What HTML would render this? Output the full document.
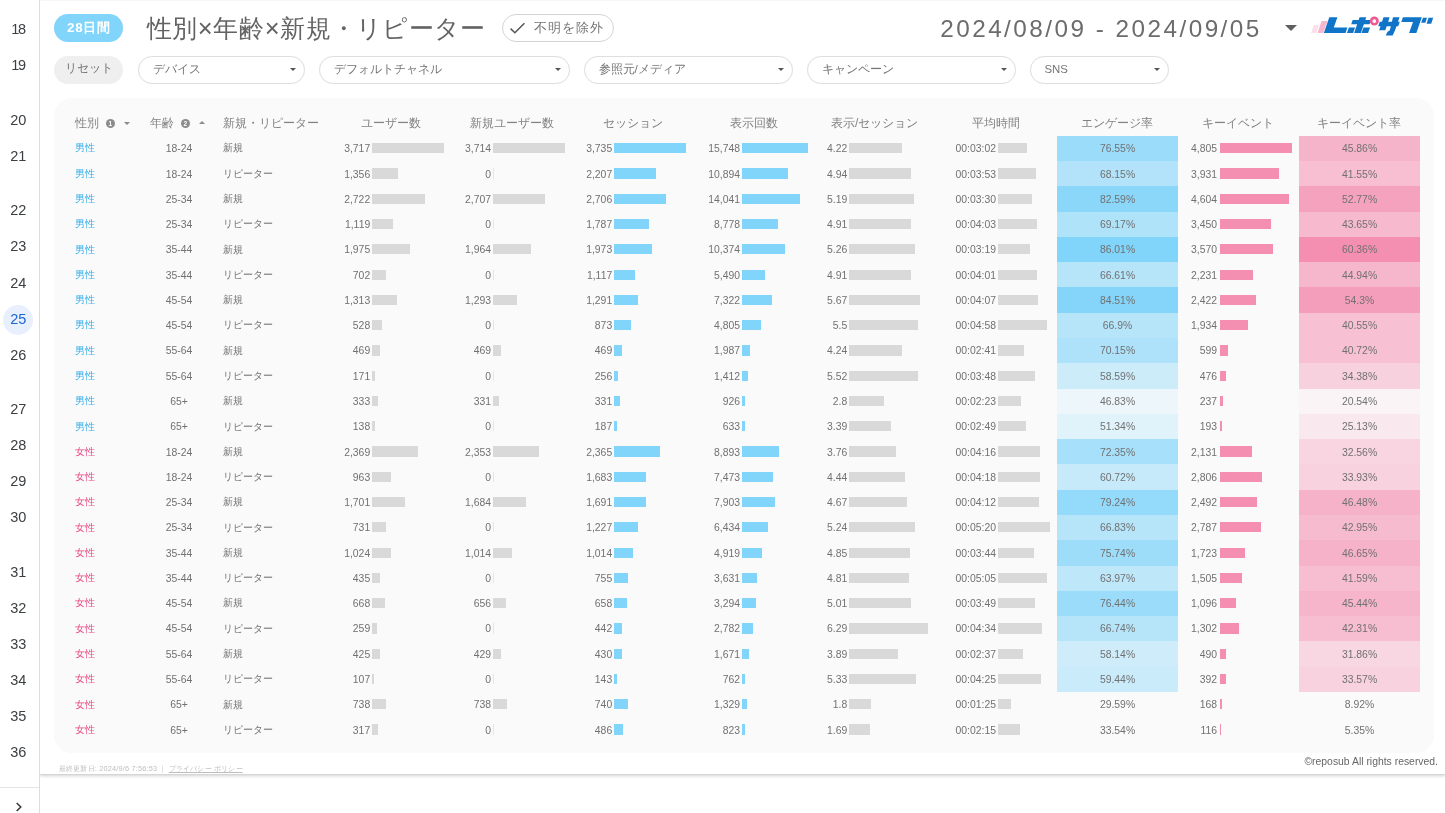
<!DOCTYPE html>
<html lang="ja">
<head>
<meta charset="utf-8">
<title>性別×年齢×新規・リピーター</title>
<style>
html,body{margin:0;padding:0;}
body{width:1445px;height:813px;overflow:hidden;background:#fff;position:relative;font-family:"Liberation Sans",sans-serif;color:#757575;}
div,span{box-sizing:border-box;}
.abs{position:absolute;}
#wrap{position:absolute;left:0;top:0;width:1445px;height:813px;will-change:transform;}
/* sidebar */
#side{position:absolute;left:0;top:0;width:40px;height:813px;border-right:1px solid #dadce0;background:#fff;}
#side .n{position:absolute;left:0;width:36px;text-align:center;font-size:14.5px;line-height:20px;height:20px;color:#3c4043;margin-top:-10.3px;padding-left:.6px;}
#side .n.k{letter-spacing:-1.3px;padding-left:0;}
#side .sel{position:absolute;left:3px;top:305px;width:30px;height:30px;border-radius:50%;background:#e8f0fe;}
#side .n.on{color:#1967d2;}
#side .sep{position:absolute;left:0;top:787px;width:39px;height:1px;background:#e3e4e8;}
/* canvas */
#canvas{position:absolute;left:40px;top:0;width:1405px;height:775px;background:#fff;border-bottom:1px solid #d6d6d6;box-shadow:0 1px 3px rgba(0,0,0,.18);}
#title .x{margin:0 .6px;}
.pill{position:absolute;height:28px;border-radius:14px;font-size:11.8px;line-height:28px;white-space:nowrap;}
.dd{position:absolute;top:55.6px;height:28.1px;border-radius:14px;border:1.4px solid #dfdfdf;background:#fff;font-size:11.8px;line-height:25.4px;padding-left:14px;color:#757575;white-space:nowrap;box-shadow:0 0 1px rgba(0,0,0,.06);}
.dd i{position:absolute;right:7.9px;top:11.7px;width:0;height:0;border-left:3.2px solid transparent;border-right:3.2px solid transparent;border-top:3.6px solid #555;}
#card{position:absolute;left:53.5px;top:98px;width:1380px;height:654.5px;border-radius:18px;background:#fafafa;}
.t{position:absolute;font-size:10.4px;line-height:14px;height:14px;margin-top:-7px;white-space:nowrap;color:#717171;}
.t.j{font-size:10.1px;}
.t.r,.t.c{padding-top:.75px;}
.t.r{width:80px;text-align:right;}
.t.c{text-align:center;}
.t.m{color:#35aeeb;}
.t.f{color:#ec4883;}
.h{position:absolute;top:123px;font-size:12.1px;margin-left:-.8px;line-height:16px;height:16px;margin-top:-8px;white-space:nowrap;color:#828282;text-align:center;}
.sn{position:absolute;width:9.2px;height:9.2px;border-radius:50%;background:#8c8c8c;color:#fff;font-size:6.5px;line-height:9.2px;text-align:center;font-weight:bold;}
.bar{position:absolute;height:10.2px;}
.bar.g{background:#d9d9d9;}
.bar.b{background:#81d4fa;}
.bar.p{background:#f48fb1;}
.hc{position:absolute;}
</style>
</head>
<body>
<div id="canvas"><div style="position:absolute;left:1px;top:0;width:1404px;height:1px;background:#f6f6f6"></div></div>
<div id="wrap">
<div id="side">
<div class="sel"></div>
<div class="n k" style="top:29.5px">18</div>
<div class="n k" style="top:65.7px">19</div>
<div class="n" style="top:120px">20</div>
<div class="n" style="top:156px">21</div>
<div class="n" style="top:210.5px">22</div>
<div class="n" style="top:246.5px">23</div>
<div class="n" style="top:283px">24</div>
<div class="n on" style="top:319.5px">25</div>
<div class="n" style="top:355px">26</div>
<div class="n" style="top:409px">27</div>
<div class="n" style="top:445px">28</div>
<div class="n" style="top:481.5px">29</div>
<div class="n" style="top:517.5px">30</div>
<div class="n" style="top:572px">31</div>
<div class="n" style="top:608px">32</div>
<div class="n" style="top:644px">33</div>
<div class="n" style="top:680px">34</div>
<div class="n" style="top:716.5px">35</div>
<div class="n" style="top:752.5px">36</div>
<div class="sep"></div>
<svg class="abs" style="left:12px;top:800px" width="14" height="14" viewBox="0 0 14 14"><path d="M4.7 2.9 L8.8 7 L4.7 11.1" fill="none" stroke="#333" stroke-width="1.45"/></svg>
</div>

<!-- header -->
<div class="pill" style="left:53.7px;top:13.8px;width:69.8px;background:#81d4fa;color:#fff;text-align:center;font-size:13.4px;letter-spacing:.8px;padding-left:.8px;line-height:28.6px;font-weight:bold;">28日間</div>
<div class="abs" id="title" style="left:146.6px;top:10px;font-size:25.49px;letter-spacing:.27px;line-height:36px;color:#636363;white-space:nowrap;font-weight:300;">性別<span class="x">×</span>年齢<span class="x">×</span>新規・リピーター</div>
<div class="pill" style="left:501.5px;top:13.8px;width:112px;border:1px solid #d8d8d8;background:#fff;color:#757575;padding-left:31.5px;line-height:26.5px;font-size:12.6px;letter-spacing:1.05px;border-width:1.5px;border-color:#d4d4d4;">不明を除外</div>
<svg class="abs" style="left:508px;top:20px" width="18" height="16" viewBox="0 0 18 16"><path d="M2.6 8.6 L6.9 12.8 L16.4 3.2" fill="none" stroke="#555" stroke-width="1.5"/></svg>
<div class="abs" id="date" style="left:940.2px;top:10.5px;font-size:24.3px;letter-spacing:2.47px;line-height:36px;color:#6c6c6c;white-space:nowrap;">2024/08/09 - 2024/09/05</div>
<div class="abs" style="left:1284.9px;top:25px;width:0;height:0;border-left:6.9px solid transparent;border-right:6.9px solid transparent;border-top:6.5px solid #5f5f5f;"></div>
<svg class="abs" style="left:1305px;top:10px" width="135" height="30" viewBox="0 0 1445 321">
<polygon points="95,160 150,160 120,245 65,245" fill="#fce0ea"/>
<polygon points="178,118 240,118 195,245 133,245" fill="#f8b7ce"/>
<g fill="#1075c8">
<polygon points="260,78 347,78 308,188 454,188 434,246 202,246"/>
<polygon points="510,108 706,108 691,153 495,153"/>
<polygon points="584,78 656,78 598,246 526,246"/>
<polygon points="470,186 536,186 515,246 449,246"/>
<polygon points="626,186 696,186 675,246 605,246"/>
<polygon points="800,126 1014,126 998,173 784,173"/>
<polygon points="840,78 906,78 860,216 794,216"/>
<polygon points="942,78 1012,78 964,218 938,272 864,272 884,232 908,216"/>
<polygon points="1048,78 1250,78 1192,246 1114,246 1156,128 1031,128"/>
<polygon points="1262,82 1306,82 1288,136 1244,136"/>
<polygon points="1322,82 1372,82 1351,146 1301,146"/>
</g>
<circle cx="742" cy="118" r="34" fill="#fff" stroke="#ee5b93" stroke-width="28"/>
</svg>

<!-- filters -->
<div class="pill" style="left:53.7px;top:55.7px;width:69.8px;background:#efefef;color:#757575;text-align:center;font-size:12.3px;line-height:24.8px;">リセット</div>
<div class="dd" style="left:137.5px;width:167px;">デバイス<i></i></div>
<div class="dd" style="left:318.5px;width:251px;">デフォルトチャネル<i></i></div>
<div class="dd" style="left:583.5px;width:209px;">参照元/メディア<i></i></div>
<div class="dd" style="left:806.5px;width:209px;">キャンペーン<i></i></div>
<div class="dd" style="left:1029.5px;width:139px;font-size:11.4px;">SNS<i></i></div>

<div id="card"></div>
<!-- table header -->
<div class="h" style="left:76.1px;text-align:left;">性別</div>
<div class="h" style="left:150.5px;text-align:left;">年齢</div>
<div class="h" style="left:223.5px;text-align:left;">新規・リピーター</div>
<div class="h" style="left:331px;width:121px;">ユーザー数</div>
<div class="h" style="left:452px;width:121px;">新規ユーザー数</div>
<div class="h" style="left:573px;width:121px;">セッション</div>
<div class="h" style="left:694px;width:121px;">表示回数</div>
<div class="h" style="left:815px;width:121px;">表示/セッション</div>
<div class="h" style="left:936px;width:121px;">平均時間</div>
<div class="h" style="left:1057px;width:121px;">エンゲージ率</div>
<div class="h" style="left:1178px;width:121px;">キーイベント</div>
<div class="h" style="left:1299px;width:121px;">キーイベント率</div>
<div class="sn" style="left:105.7px;top:119.1px;">1</div>
<div class="abs" style="left:124.2px;top:121.6px;width:0;height:0;border-left:3px solid transparent;border-right:3px solid transparent;border-top:3.7px solid #8a8a8a;"></div>
<div class="sn" style="left:180.7px;top:119.3px;">2</div>
<div class="abs" style="left:198.9px;top:121.3px;width:0;height:0;border-left:3.1px solid transparent;border-right:3.1px solid transparent;border-bottom:3.7px solid #8a8a8a;"></div>
<div class="hc" style="left:1056.8px;top:135.84px;width:120.9px;height:25.28px;background:#9bdcfa"></div>
<div class="hc" style="left:1299px;top:135.84px;width:121.1px;height:25.28px;background:#f6b4ca"></div>
<div class="t j m" style="left:75px;top:148.48px">男性</div>
<div class="t c" style="left:149px;top:148.48px;width:60px">18-24</div>
<div class="t j" style="left:222.6px;top:148.48px">新規</div>
<div class="t r" style="left:290.2px;top:148.48px">3,717</div>
<div class="bar g" style="left:372.0px;top:143.13px;width:72.4px"></div>
<div class="t r" style="left:411.0px;top:148.48px">3,714</div>
<div class="bar g" style="left:493.0px;top:143.13px;width:72.4px"></div>
<div class="t r" style="left:532.2px;top:148.48px">3,735</div>
<div class="bar b" style="left:614.1px;top:143.13px;width:72.4px"></div>
<div class="t r" style="left:660.0px;top:148.48px">15,748</div>
<div class="bar b" style="left:742.1px;top:143.13px;width:65.7px"></div>
<div class="t r" style="left:767.3px;top:148.48px">4.22</div>
<div class="bar g" style="left:849.1px;top:143.13px;width:53.1px"></div>
<div class="t r" style="left:916.0px;top:148.48px">00:03:02</div>
<div class="bar g" style="left:997.8px;top:143.13px;width:29.5px"></div>
<div class="t r" style="left:1137.0px;top:148.48px">4,805</div>
<div class="bar p" style="left:1219.8px;top:143.13px;width:72.1px"></div>
<div class="t c" style="left:1057px;top:148.48px;width:121px">76.55%</div>
<div class="t c" style="left:1299px;top:148.48px;width:121px">45.86%</div>
<div class="hc" style="left:1056.8px;top:161.12px;width:120.9px;height:25.27px;background:#b2e3fa"></div>
<div class="hc" style="left:1299px;top:161.12px;width:121.1px;height:25.27px;background:#f7bfd1"></div>
<div class="t j m" style="left:75px;top:173.75px">男性</div>
<div class="t c" style="left:149px;top:173.75px;width:60px">18-24</div>
<div class="t j" style="left:222.6px;top:173.75px">リピーター</div>
<div class="t r" style="left:290.2px;top:173.75px">1,356</div>
<div class="bar g" style="left:372.0px;top:168.40px;width:26.1px"></div>
<div class="t r" style="left:411.0px;top:173.75px">0</div>
<div class="bar g" style="left:493.0px;top:168.40px;width:1px;opacity:.6"></div>
<div class="t r" style="left:532.2px;top:173.75px">2,207</div>
<div class="bar b" style="left:614.1px;top:168.40px;width:42.1px"></div>
<div class="t r" style="left:660.0px;top:173.75px">10,894</div>
<div class="bar b" style="left:742.1px;top:168.40px;width:45.5px"></div>
<div class="t r" style="left:767.3px;top:173.75px">4.94</div>
<div class="bar g" style="left:849.1px;top:168.40px;width:61.5px"></div>
<div class="t r" style="left:916.0px;top:173.75px">00:03:53</div>
<div class="bar g" style="left:997.8px;top:168.40px;width:37.9px"></div>
<div class="t r" style="left:1137.0px;top:173.75px">3,931</div>
<div class="bar p" style="left:1219.8px;top:168.40px;width:59.0px"></div>
<div class="t c" style="left:1057px;top:173.75px;width:121px">68.15%</div>
<div class="t c" style="left:1299px;top:173.75px;width:121px">41.55%</div>
<div class="hc" style="left:1056.8px;top:186.39px;width:120.9px;height:25.28px;background:#8ad7fa"></div>
<div class="hc" style="left:1299px;top:186.39px;width:121.1px;height:25.28px;background:#f5a2be"></div>
<div class="t j m" style="left:75px;top:199.03px">男性</div>
<div class="t c" style="left:149px;top:199.03px;width:60px">25-34</div>
<div class="t j" style="left:222.6px;top:199.03px">新規</div>
<div class="t r" style="left:290.2px;top:199.03px">2,722</div>
<div class="bar g" style="left:372.0px;top:193.68px;width:53.1px"></div>
<div class="t r" style="left:411.0px;top:199.03px">2,707</div>
<div class="bar g" style="left:493.0px;top:193.68px;width:52.2px"></div>
<div class="t r" style="left:532.2px;top:199.03px">2,706</div>
<div class="bar b" style="left:614.1px;top:193.68px;width:52.2px"></div>
<div class="t r" style="left:660.0px;top:199.03px">14,041</div>
<div class="bar b" style="left:742.1px;top:193.68px;width:58.1px"></div>
<div class="t r" style="left:767.3px;top:199.03px">5.19</div>
<div class="bar g" style="left:849.1px;top:193.68px;width:64.9px"></div>
<div class="t r" style="left:916.0px;top:199.03px">00:03:30</div>
<div class="bar g" style="left:997.8px;top:193.68px;width:34.5px"></div>
<div class="t r" style="left:1137.0px;top:199.03px">4,604</div>
<div class="bar p" style="left:1219.8px;top:193.68px;width:69.1px"></div>
<div class="t c" style="left:1057px;top:199.03px;width:121px">82.59%</div>
<div class="t c" style="left:1299px;top:199.03px;width:121px">52.77%</div>
<div class="hc" style="left:1056.8px;top:211.66px;width:120.9px;height:25.28px;background:#afe3fa"></div>
<div class="hc" style="left:1299px;top:211.66px;width:121.1px;height:25.28px;background:#f6b9ce"></div>
<div class="t j m" style="left:75px;top:224.30px">男性</div>
<div class="t c" style="left:149px;top:224.30px;width:60px">25-34</div>
<div class="t j" style="left:222.6px;top:224.30px">リピーター</div>
<div class="t r" style="left:290.2px;top:224.30px">1,119</div>
<div class="bar g" style="left:372.0px;top:218.95px;width:21.1px"></div>
<div class="t r" style="left:411.0px;top:224.30px">0</div>
<div class="bar g" style="left:493.0px;top:218.95px;width:1px;opacity:.6"></div>
<div class="t r" style="left:532.2px;top:224.30px">1,787</div>
<div class="bar b" style="left:614.1px;top:218.95px;width:34.5px"></div>
<div class="t r" style="left:660.0px;top:224.30px">8,778</div>
<div class="bar b" style="left:742.1px;top:218.95px;width:36.2px"></div>
<div class="t r" style="left:767.3px;top:224.30px">4.91</div>
<div class="bar g" style="left:849.1px;top:218.95px;width:61.5px"></div>
<div class="t r" style="left:916.0px;top:224.30px">00:04:03</div>
<div class="bar g" style="left:997.8px;top:218.95px;width:39.6px"></div>
<div class="t r" style="left:1137.0px;top:224.30px">3,450</div>
<div class="bar p" style="left:1219.8px;top:218.95px;width:51.4px"></div>
<div class="t c" style="left:1057px;top:224.30px;width:121px">69.17%</div>
<div class="t c" style="left:1299px;top:224.30px;width:121px">43.65%</div>
<div class="hc" style="left:1056.8px;top:236.94px;width:120.9px;height:25.28px;background:#81d4fa"></div>
<div class="hc" style="left:1299px;top:236.94px;width:121.1px;height:25.28px;background:#f48fb1"></div>
<div class="t j m" style="left:75px;top:249.58px">男性</div>
<div class="t c" style="left:149px;top:249.58px;width:60px">35-44</div>
<div class="t j" style="left:222.6px;top:249.58px">新規</div>
<div class="t r" style="left:290.2px;top:249.58px">1,975</div>
<div class="bar g" style="left:372.0px;top:244.23px;width:37.9px"></div>
<div class="t r" style="left:411.0px;top:249.58px">1,964</div>
<div class="bar g" style="left:493.0px;top:244.23px;width:37.9px"></div>
<div class="t r" style="left:532.2px;top:249.58px">1,973</div>
<div class="bar b" style="left:614.1px;top:244.23px;width:37.9px"></div>
<div class="t r" style="left:660.0px;top:249.58px">10,374</div>
<div class="bar b" style="left:742.1px;top:244.23px;width:43.0px"></div>
<div class="t r" style="left:767.3px;top:249.58px">5.26</div>
<div class="bar g" style="left:849.1px;top:244.23px;width:65.7px"></div>
<div class="t r" style="left:916.0px;top:249.58px">00:03:19</div>
<div class="bar g" style="left:997.8px;top:244.23px;width:32.0px"></div>
<div class="t r" style="left:1137.0px;top:249.58px">3,570</div>
<div class="bar p" style="left:1219.8px;top:244.23px;width:53.1px"></div>
<div class="t c" style="left:1057px;top:249.58px;width:121px">86.01%</div>
<div class="t c" style="left:1299px;top:249.58px;width:121px">60.36%</div>
<div class="hc" style="left:1056.8px;top:262.22px;width:120.9px;height:25.27px;background:#b6e5fa"></div>
<div class="hc" style="left:1299px;top:262.22px;width:121.1px;height:25.27px;background:#f6b6cc"></div>
<div class="t j m" style="left:75px;top:274.85px">男性</div>
<div class="t c" style="left:149px;top:274.85px;width:60px">35-44</div>
<div class="t j" style="left:222.6px;top:274.85px">リピーター</div>
<div class="t r" style="left:290.2px;top:274.85px">702</div>
<div class="bar g" style="left:372.0px;top:269.50px;width:13.5px"></div>
<div class="t r" style="left:411.0px;top:274.85px">0</div>
<div class="bar g" style="left:493.0px;top:269.50px;width:1px;opacity:.6"></div>
<div class="t r" style="left:532.2px;top:274.85px">1,117</div>
<div class="bar b" style="left:614.1px;top:269.50px;width:21.1px"></div>
<div class="t r" style="left:660.0px;top:274.85px">5,490</div>
<div class="bar b" style="left:742.1px;top:269.50px;width:22.7px"></div>
<div class="t r" style="left:767.3px;top:274.85px">4.91</div>
<div class="bar g" style="left:849.1px;top:269.50px;width:61.5px"></div>
<div class="t r" style="left:916.0px;top:274.85px">00:04:01</div>
<div class="bar g" style="left:997.8px;top:269.50px;width:39.6px"></div>
<div class="t r" style="left:1137.0px;top:274.85px">2,231</div>
<div class="bar p" style="left:1219.8px;top:269.50px;width:32.8px"></div>
<div class="t c" style="left:1057px;top:274.85px;width:121px">66.61%</div>
<div class="t c" style="left:1299px;top:274.85px;width:121px">44.94%</div>
<div class="hc" style="left:1056.8px;top:287.49px;width:120.9px;height:25.27px;background:#85d5fa"></div>
<div class="hc" style="left:1299px;top:287.49px;width:121.1px;height:25.27px;background:#f59ebb"></div>
<div class="t j m" style="left:75px;top:300.13px">男性</div>
<div class="t c" style="left:149px;top:300.13px;width:60px">45-54</div>
<div class="t j" style="left:222.6px;top:300.13px">新規</div>
<div class="t r" style="left:290.2px;top:300.13px">1,313</div>
<div class="bar g" style="left:372.0px;top:294.78px;width:25.3px"></div>
<div class="t r" style="left:411.0px;top:300.13px">1,293</div>
<div class="bar g" style="left:493.0px;top:294.78px;width:24.4px"></div>
<div class="t r" style="left:532.2px;top:300.13px">1,291</div>
<div class="bar b" style="left:614.1px;top:294.78px;width:24.4px"></div>
<div class="t r" style="left:660.0px;top:300.13px">7,322</div>
<div class="bar b" style="left:742.1px;top:294.78px;width:30.3px"></div>
<div class="t r" style="left:767.3px;top:300.13px">5.67</div>
<div class="bar g" style="left:849.1px;top:294.78px;width:70.8px"></div>
<div class="t r" style="left:916.0px;top:300.13px">00:04:07</div>
<div class="bar g" style="left:997.8px;top:294.78px;width:40.4px"></div>
<div class="t r" style="left:1137.0px;top:300.13px">2,422</div>
<div class="bar p" style="left:1219.8px;top:294.78px;width:36.2px"></div>
<div class="t c" style="left:1057px;top:300.13px;width:121px">84.51%</div>
<div class="t c" style="left:1299px;top:300.13px;width:121px">54.3%</div>
<div class="hc" style="left:1056.8px;top:312.76px;width:120.9px;height:25.27px;background:#b6e5fa"></div>
<div class="hc" style="left:1299px;top:312.76px;width:121.1px;height:25.27px;background:#f7c1d3"></div>
<div class="t j m" style="left:75px;top:325.40px">男性</div>
<div class="t c" style="left:149px;top:325.40px;width:60px">45-54</div>
<div class="t j" style="left:222.6px;top:325.40px">リピーター</div>
<div class="t r" style="left:290.2px;top:325.40px">528</div>
<div class="bar g" style="left:372.0px;top:320.05px;width:10.1px"></div>
<div class="t r" style="left:411.0px;top:325.40px">0</div>
<div class="bar g" style="left:493.0px;top:320.05px;width:1px;opacity:.6"></div>
<div class="t r" style="left:532.2px;top:325.40px">873</div>
<div class="bar b" style="left:614.1px;top:320.05px;width:16.8px"></div>
<div class="t r" style="left:660.0px;top:325.40px">4,805</div>
<div class="bar b" style="left:742.1px;top:320.05px;width:19.4px"></div>
<div class="t r" style="left:767.3px;top:325.40px">5.5</div>
<div class="bar g" style="left:849.1px;top:320.05px;width:69.1px"></div>
<div class="t r" style="left:916.0px;top:325.40px">00:04:58</div>
<div class="bar g" style="left:997.8px;top:320.05px;width:48.9px"></div>
<div class="t r" style="left:1137.0px;top:325.40px">1,934</div>
<div class="bar p" style="left:1219.8px;top:320.05px;width:28.6px"></div>
<div class="t c" style="left:1057px;top:325.40px;width:121px">66.9%</div>
<div class="t c" style="left:1299px;top:325.40px;width:121px">40.55%</div>
<div class="hc" style="left:1056.8px;top:338.04px;width:120.9px;height:25.28px;background:#ade2fa"></div>
<div class="hc" style="left:1299px;top:338.04px;width:121.1px;height:25.28px;background:#f7c1d3"></div>
<div class="t j m" style="left:75px;top:350.68px">男性</div>
<div class="t c" style="left:149px;top:350.68px;width:60px">55-64</div>
<div class="t j" style="left:222.6px;top:350.68px">新規</div>
<div class="t r" style="left:290.2px;top:350.68px">469</div>
<div class="bar g" style="left:372.0px;top:345.33px;width:8.4px"></div>
<div class="t r" style="left:411.0px;top:350.68px">469</div>
<div class="bar g" style="left:493.0px;top:345.33px;width:8.4px"></div>
<div class="t r" style="left:532.2px;top:350.68px">469</div>
<div class="bar b" style="left:614.1px;top:345.33px;width:8.4px"></div>
<div class="t r" style="left:660.0px;top:350.68px">1,987</div>
<div class="bar b" style="left:742.1px;top:345.33px;width:7.6px"></div>
<div class="t r" style="left:767.3px;top:350.68px">4.24</div>
<div class="bar g" style="left:849.1px;top:345.33px;width:53.1px"></div>
<div class="t r" style="left:916.0px;top:350.68px">00:02:41</div>
<div class="bar g" style="left:997.8px;top:345.33px;width:26.1px"></div>
<div class="t r" style="left:1137.0px;top:350.68px">599</div>
<div class="bar p" style="left:1219.8px;top:345.33px;width:8.4px"></div>
<div class="t c" style="left:1057px;top:350.68px;width:121px">70.15%</div>
<div class="t c" style="left:1299px;top:350.68px;width:121px">40.72%</div>
<div class="hc" style="left:1056.8px;top:363.31px;width:120.9px;height:25.28px;background:#ccecfa"></div>
<div class="hc" style="left:1299px;top:363.31px;width:121.1px;height:25.28px;background:#f8d1de"></div>
<div class="t j m" style="left:75px;top:375.95px">男性</div>
<div class="t c" style="left:149px;top:375.95px;width:60px">55-64</div>
<div class="t j" style="left:222.6px;top:375.95px">リピーター</div>
<div class="t r" style="left:290.2px;top:375.95px">171</div>
<div class="bar g" style="left:372.0px;top:370.60px;width:3.4px"></div>
<div class="t r" style="left:411.0px;top:375.95px">0</div>
<div class="bar g" style="left:493.0px;top:370.60px;width:1px;opacity:.6"></div>
<div class="t r" style="left:532.2px;top:375.95px">256</div>
<div class="bar b" style="left:614.1px;top:370.60px;width:4.2px"></div>
<div class="t r" style="left:660.0px;top:375.95px">1,412</div>
<div class="bar b" style="left:742.1px;top:370.60px;width:5.9px"></div>
<div class="t r" style="left:767.3px;top:375.95px">5.52</div>
<div class="bar g" style="left:849.1px;top:370.60px;width:69.1px"></div>
<div class="t r" style="left:916.0px;top:375.95px">00:03:48</div>
<div class="bar g" style="left:997.8px;top:370.60px;width:37.1px"></div>
<div class="t r" style="left:1137.0px;top:375.95px">476</div>
<div class="bar p" style="left:1219.8px;top:370.60px;width:6.7px"></div>
<div class="t c" style="left:1057px;top:375.95px;width:121px">58.59%</div>
<div class="t c" style="left:1299px;top:375.95px;width:121px">34.38%</div>
<div class="hc" style="left:1056.8px;top:388.59px;width:120.9px;height:25.27px;background:#edf6fa"></div>
<div class="hc" style="left:1299px;top:388.59px;width:121.1px;height:25.27px;background:#faf4f6"></div>
<div class="t j m" style="left:75px;top:401.23px">男性</div>
<div class="t c" style="left:149px;top:401.23px;width:60px">65+</div>
<div class="t j" style="left:222.6px;top:401.23px">新規</div>
<div class="t r" style="left:290.2px;top:401.23px">333</div>
<div class="bar g" style="left:372.0px;top:395.88px;width:5.9px"></div>
<div class="t r" style="left:411.0px;top:401.23px">331</div>
<div class="bar g" style="left:493.0px;top:395.88px;width:5.9px"></div>
<div class="t r" style="left:532.2px;top:401.23px">331</div>
<div class="bar b" style="left:614.1px;top:395.88px;width:5.9px"></div>
<div class="t r" style="left:660.0px;top:401.23px">926</div>
<div class="bar b" style="left:742.1px;top:395.88px;width:3.4px"></div>
<div class="t r" style="left:767.3px;top:401.23px">2.8</div>
<div class="bar g" style="left:849.1px;top:395.88px;width:34.5px"></div>
<div class="t r" style="left:916.0px;top:401.23px">00:02:23</div>
<div class="bar g" style="left:997.8px;top:395.88px;width:23.6px"></div>
<div class="t r" style="left:1137.0px;top:401.23px">237</div>
<div class="bar p" style="left:1219.8px;top:395.88px;width:3.4px"></div>
<div class="t c" style="left:1057px;top:401.23px;width:121px">46.83%</div>
<div class="t c" style="left:1299px;top:401.23px;width:121px">20.54%</div>
<div class="hc" style="left:1056.8px;top:413.87px;width:120.9px;height:25.27px;background:#e0f2fa"></div>
<div class="hc" style="left:1299px;top:413.87px;width:121.1px;height:25.27px;background:#f9e8ee"></div>
<div class="t j m" style="left:75px;top:426.50px">男性</div>
<div class="t c" style="left:149px;top:426.50px;width:60px">65+</div>
<div class="t j" style="left:222.6px;top:426.50px">リピーター</div>
<div class="t r" style="left:290.2px;top:426.50px">138</div>
<div class="bar g" style="left:372.0px;top:421.15px;width:2.5px"></div>
<div class="t r" style="left:411.0px;top:426.50px">0</div>
<div class="bar g" style="left:493.0px;top:421.15px;width:1px;opacity:.6"></div>
<div class="t r" style="left:532.2px;top:426.50px">187</div>
<div class="bar b" style="left:614.1px;top:421.15px;width:3.4px"></div>
<div class="t r" style="left:660.0px;top:426.50px">633</div>
<div class="bar b" style="left:742.1px;top:421.15px;width:2.5px"></div>
<div class="t r" style="left:767.3px;top:426.50px">3.39</div>
<div class="bar g" style="left:849.1px;top:421.15px;width:42.1px"></div>
<div class="t r" style="left:916.0px;top:426.50px">00:02:49</div>
<div class="bar g" style="left:997.8px;top:421.15px;width:27.8px"></div>
<div class="t r" style="left:1137.0px;top:426.50px">193</div>
<div class="bar p" style="left:1219.8px;top:421.15px;width:2.5px"></div>
<div class="t c" style="left:1057px;top:426.50px;width:121px">51.34%</div>
<div class="t c" style="left:1299px;top:426.50px;width:121px">25.13%</div>
<div class="hc" style="left:1056.8px;top:439.14px;width:120.9px;height:25.27px;background:#a7e0fa"></div>
<div class="hc" style="left:1299px;top:439.14px;width:121.1px;height:25.27px;background:#f8d5e1"></div>
<div class="t j f" style="left:75px;top:451.78px">女性</div>
<div class="t c" style="left:149px;top:451.78px;width:60px">18-24</div>
<div class="t j" style="left:222.6px;top:451.78px">新規</div>
<div class="t r" style="left:290.2px;top:451.78px">2,369</div>
<div class="bar g" style="left:372.0px;top:446.43px;width:45.5px"></div>
<div class="t r" style="left:411.0px;top:451.78px">2,353</div>
<div class="bar g" style="left:493.0px;top:446.43px;width:45.5px"></div>
<div class="t r" style="left:532.2px;top:451.78px">2,365</div>
<div class="bar b" style="left:614.1px;top:446.43px;width:45.5px"></div>
<div class="t r" style="left:660.0px;top:451.78px">8,893</div>
<div class="bar b" style="left:742.1px;top:446.43px;width:37.1px"></div>
<div class="t r" style="left:767.3px;top:451.78px">3.76</div>
<div class="bar g" style="left:849.1px;top:446.43px;width:47.2px"></div>
<div class="t r" style="left:916.0px;top:451.78px">00:04:16</div>
<div class="bar g" style="left:997.8px;top:446.43px;width:42.1px"></div>
<div class="t r" style="left:1137.0px;top:451.78px">2,131</div>
<div class="bar p" style="left:1219.8px;top:446.43px;width:32.0px"></div>
<div class="t c" style="left:1057px;top:451.78px;width:121px">72.35%</div>
<div class="t c" style="left:1299px;top:451.78px;width:121px">32.56%</div>
<div class="hc" style="left:1056.8px;top:464.41px;width:120.9px;height:25.27px;background:#c7eafa"></div>
<div class="hc" style="left:1299px;top:464.41px;width:121.1px;height:25.27px;background:#f8d2df"></div>
<div class="t j f" style="left:75px;top:477.05px">女性</div>
<div class="t c" style="left:149px;top:477.05px;width:60px">18-24</div>
<div class="t j" style="left:222.6px;top:477.05px">リピーター</div>
<div class="t r" style="left:290.2px;top:477.05px">963</div>
<div class="bar g" style="left:372.0px;top:471.70px;width:18.5px"></div>
<div class="t r" style="left:411.0px;top:477.05px">0</div>
<div class="bar g" style="left:493.0px;top:471.70px;width:1px;opacity:.6"></div>
<div class="t r" style="left:532.2px;top:477.05px">1,683</div>
<div class="bar b" style="left:614.1px;top:471.70px;width:32.0px"></div>
<div class="t r" style="left:660.0px;top:477.05px">7,473</div>
<div class="bar b" style="left:742.1px;top:471.70px;width:31.2px"></div>
<div class="t r" style="left:767.3px;top:477.05px">4.44</div>
<div class="bar g" style="left:849.1px;top:471.70px;width:55.6px"></div>
<div class="t r" style="left:916.0px;top:477.05px">00:04:18</div>
<div class="bar g" style="left:997.8px;top:471.70px;width:42.1px"></div>
<div class="t r" style="left:1137.0px;top:477.05px">2,806</div>
<div class="bar p" style="left:1219.8px;top:471.70px;width:42.1px"></div>
<div class="t c" style="left:1057px;top:477.05px;width:121px">60.72%</div>
<div class="t c" style="left:1299px;top:477.05px;width:121px">33.93%</div>
<div class="hc" style="left:1056.8px;top:489.69px;width:120.9px;height:25.28px;background:#94dafa"></div>
<div class="hc" style="left:1299px;top:489.69px;width:121.1px;height:25.28px;background:#f6b2c9"></div>
<div class="t j f" style="left:75px;top:502.33px">女性</div>
<div class="t c" style="left:149px;top:502.33px;width:60px">25-34</div>
<div class="t j" style="left:222.6px;top:502.33px">新規</div>
<div class="t r" style="left:290.2px;top:502.33px">1,701</div>
<div class="bar g" style="left:372.0px;top:496.98px;width:32.8px"></div>
<div class="t r" style="left:411.0px;top:502.33px">1,684</div>
<div class="bar g" style="left:493.0px;top:496.98px;width:32.8px"></div>
<div class="t r" style="left:532.2px;top:502.33px">1,691</div>
<div class="bar b" style="left:614.1px;top:496.98px;width:32.0px"></div>
<div class="t r" style="left:660.0px;top:502.33px">7,903</div>
<div class="bar b" style="left:742.1px;top:496.98px;width:32.8px"></div>
<div class="t r" style="left:767.3px;top:502.33px">4.67</div>
<div class="bar g" style="left:849.1px;top:496.98px;width:58.1px"></div>
<div class="t r" style="left:916.0px;top:502.33px">00:04:12</div>
<div class="bar g" style="left:997.8px;top:496.98px;width:41.3px"></div>
<div class="t r" style="left:1137.0px;top:502.33px">2,492</div>
<div class="bar p" style="left:1219.8px;top:496.98px;width:37.1px"></div>
<div class="t c" style="left:1057px;top:502.33px;width:121px">79.24%</div>
<div class="t c" style="left:1299px;top:502.33px;width:121px">46.48%</div>
<div class="hc" style="left:1056.8px;top:514.97px;width:120.9px;height:25.27px;background:#b6e5fa"></div>
<div class="hc" style="left:1299px;top:514.97px;width:121.1px;height:25.27px;background:#f6bbcf"></div>
<div class="t j f" style="left:75px;top:527.60px">女性</div>
<div class="t c" style="left:149px;top:527.60px;width:60px">25-34</div>
<div class="t j" style="left:222.6px;top:527.60px">リピーター</div>
<div class="t r" style="left:290.2px;top:527.60px">731</div>
<div class="bar g" style="left:372.0px;top:522.25px;width:13.5px"></div>
<div class="t r" style="left:411.0px;top:527.60px">0</div>
<div class="bar g" style="left:493.0px;top:522.25px;width:1px;opacity:.6"></div>
<div class="t r" style="left:532.2px;top:527.60px">1,227</div>
<div class="bar b" style="left:614.1px;top:522.25px;width:23.6px"></div>
<div class="t r" style="left:660.0px;top:527.60px">6,434</div>
<div class="bar b" style="left:742.1px;top:522.25px;width:26.1px"></div>
<div class="t r" style="left:767.3px;top:527.60px">5.24</div>
<div class="bar g" style="left:849.1px;top:522.25px;width:65.7px"></div>
<div class="t r" style="left:916.0px;top:527.60px">00:05:20</div>
<div class="bar g" style="left:997.8px;top:522.25px;width:52.7px"></div>
<div class="t r" style="left:1137.0px;top:527.60px">2,787</div>
<div class="bar p" style="left:1219.8px;top:522.25px;width:41.3px"></div>
<div class="t c" style="left:1057px;top:527.60px;width:121px">66.83%</div>
<div class="t c" style="left:1299px;top:527.60px;width:121px">42.95%</div>
<div class="hc" style="left:1056.8px;top:540.24px;width:120.9px;height:25.27px;background:#9dddfa"></div>
<div class="hc" style="left:1299px;top:540.24px;width:121.1px;height:25.27px;background:#f6b2c9"></div>
<div class="t j f" style="left:75px;top:552.88px">女性</div>
<div class="t c" style="left:149px;top:552.88px;width:60px">35-44</div>
<div class="t j" style="left:222.6px;top:552.88px">新規</div>
<div class="t r" style="left:290.2px;top:552.88px">1,024</div>
<div class="bar g" style="left:372.0px;top:547.53px;width:19.4px"></div>
<div class="t r" style="left:411.0px;top:552.88px">1,014</div>
<div class="bar g" style="left:493.0px;top:547.53px;width:19.4px"></div>
<div class="t r" style="left:532.2px;top:552.88px">1,014</div>
<div class="bar b" style="left:614.1px;top:547.53px;width:19.4px"></div>
<div class="t r" style="left:660.0px;top:552.88px">4,919</div>
<div class="bar b" style="left:742.1px;top:547.53px;width:20.2px"></div>
<div class="t r" style="left:767.3px;top:552.88px">4.85</div>
<div class="bar g" style="left:849.1px;top:547.53px;width:60.6px"></div>
<div class="t r" style="left:916.0px;top:552.88px">00:03:44</div>
<div class="bar g" style="left:997.8px;top:547.53px;width:36.2px"></div>
<div class="t r" style="left:1137.0px;top:552.88px">1,723</div>
<div class="bar p" style="left:1219.8px;top:547.53px;width:25.3px"></div>
<div class="t c" style="left:1057px;top:552.88px;width:121px">75.74%</div>
<div class="t c" style="left:1299px;top:552.88px;width:121px">46.65%</div>
<div class="hc" style="left:1056.8px;top:565.51px;width:120.9px;height:25.27px;background:#bee7fa"></div>
<div class="hc" style="left:1299px;top:565.51px;width:121.1px;height:25.27px;background:#f7bed1"></div>
<div class="t j f" style="left:75px;top:578.15px">女性</div>
<div class="t c" style="left:149px;top:578.15px;width:60px">35-44</div>
<div class="t j" style="left:222.6px;top:578.15px">リピーター</div>
<div class="t r" style="left:290.2px;top:578.15px">435</div>
<div class="bar g" style="left:372.0px;top:572.80px;width:8.4px"></div>
<div class="t r" style="left:411.0px;top:578.15px">0</div>
<div class="bar g" style="left:493.0px;top:572.80px;width:1px;opacity:.6"></div>
<div class="t r" style="left:532.2px;top:578.15px">755</div>
<div class="bar b" style="left:614.1px;top:572.80px;width:14.3px"></div>
<div class="t r" style="left:660.0px;top:578.15px">3,631</div>
<div class="bar b" style="left:742.1px;top:572.80px;width:15.2px"></div>
<div class="t r" style="left:767.3px;top:578.15px">4.81</div>
<div class="bar g" style="left:849.1px;top:572.80px;width:59.8px"></div>
<div class="t r" style="left:916.0px;top:578.15px">00:05:05</div>
<div class="bar g" style="left:997.8px;top:572.80px;width:49.7px"></div>
<div class="t r" style="left:1137.0px;top:578.15px">1,505</div>
<div class="bar p" style="left:1219.8px;top:572.80px;width:21.9px"></div>
<div class="t c" style="left:1057px;top:578.15px;width:121px">63.97%</div>
<div class="t c" style="left:1299px;top:578.15px;width:121px">41.59%</div>
<div class="hc" style="left:1056.8px;top:590.79px;width:120.9px;height:25.27px;background:#9bdcfa"></div>
<div class="hc" style="left:1299px;top:590.79px;width:121.1px;height:25.27px;background:#f6b5cb"></div>
<div class="t j f" style="left:75px;top:603.43px">女性</div>
<div class="t c" style="left:149px;top:603.43px;width:60px">45-54</div>
<div class="t j" style="left:222.6px;top:603.43px">新規</div>
<div class="t r" style="left:290.2px;top:603.43px">668</div>
<div class="bar g" style="left:372.0px;top:598.08px;width:12.6px"></div>
<div class="t r" style="left:411.0px;top:603.43px">656</div>
<div class="bar g" style="left:493.0px;top:598.08px;width:12.6px"></div>
<div class="t r" style="left:532.2px;top:603.43px">658</div>
<div class="bar b" style="left:614.1px;top:598.08px;width:12.6px"></div>
<div class="t r" style="left:660.0px;top:603.43px">3,294</div>
<div class="bar b" style="left:742.1px;top:598.08px;width:13.5px"></div>
<div class="t r" style="left:767.3px;top:603.43px">5.01</div>
<div class="bar g" style="left:849.1px;top:598.08px;width:62.3px"></div>
<div class="t r" style="left:916.0px;top:603.43px">00:03:49</div>
<div class="bar g" style="left:997.8px;top:598.08px;width:37.1px"></div>
<div class="t r" style="left:1137.0px;top:603.43px">1,096</div>
<div class="bar p" style="left:1219.8px;top:598.08px;width:16.0px"></div>
<div class="t c" style="left:1057px;top:603.43px;width:121px">76.44%</div>
<div class="t c" style="left:1299px;top:603.43px;width:121px">45.44%</div>
<div class="hc" style="left:1056.8px;top:616.06px;width:120.9px;height:25.28px;background:#b6e5fa"></div>
<div class="hc" style="left:1299px;top:616.06px;width:121.1px;height:25.28px;background:#f7bdd0"></div>
<div class="t j f" style="left:75px;top:628.70px">女性</div>
<div class="t c" style="left:149px;top:628.70px;width:60px">45-54</div>
<div class="t j" style="left:222.6px;top:628.70px">リピーター</div>
<div class="t r" style="left:290.2px;top:628.70px">259</div>
<div class="bar g" style="left:372.0px;top:623.35px;width:5.1px"></div>
<div class="t r" style="left:411.0px;top:628.70px">0</div>
<div class="bar g" style="left:493.0px;top:623.35px;width:1px;opacity:.6"></div>
<div class="t r" style="left:532.2px;top:628.70px">442</div>
<div class="bar b" style="left:614.1px;top:623.35px;width:8.4px"></div>
<div class="t r" style="left:660.0px;top:628.70px">2,782</div>
<div class="bar b" style="left:742.1px;top:623.35px;width:10.9px"></div>
<div class="t r" style="left:767.3px;top:628.70px">6.29</div>
<div class="bar g" style="left:849.1px;top:623.35px;width:79.2px"></div>
<div class="t r" style="left:916.0px;top:628.70px">00:04:34</div>
<div class="bar g" style="left:997.8px;top:623.35px;width:44.6px"></div>
<div class="t r" style="left:1137.0px;top:628.70px">1,302</div>
<div class="bar p" style="left:1219.8px;top:623.35px;width:19.4px"></div>
<div class="t c" style="left:1057px;top:628.70px;width:121px">66.74%</div>
<div class="t c" style="left:1299px;top:628.70px;width:121px">42.31%</div>
<div class="hc" style="left:1056.8px;top:641.34px;width:120.9px;height:25.27px;background:#ceecfa"></div>
<div class="hc" style="left:1299px;top:641.34px;width:121.1px;height:25.27px;background:#f8d7e2"></div>
<div class="t j f" style="left:75px;top:653.98px">女性</div>
<div class="t c" style="left:149px;top:653.98px;width:60px">55-64</div>
<div class="t j" style="left:222.6px;top:653.98px">新規</div>
<div class="t r" style="left:290.2px;top:653.98px">425</div>
<div class="bar g" style="left:372.0px;top:648.63px;width:7.6px"></div>
<div class="t r" style="left:411.0px;top:653.98px">429</div>
<div class="bar g" style="left:493.0px;top:648.63px;width:7.6px"></div>
<div class="t r" style="left:532.2px;top:653.98px">430</div>
<div class="bar b" style="left:614.1px;top:648.63px;width:7.6px"></div>
<div class="t r" style="left:660.0px;top:653.98px">1,671</div>
<div class="bar b" style="left:742.1px;top:648.63px;width:6.7px"></div>
<div class="t r" style="left:767.3px;top:653.98px">3.89</div>
<div class="bar g" style="left:849.1px;top:648.63px;width:48.9px"></div>
<div class="t r" style="left:916.0px;top:653.98px">00:02:37</div>
<div class="bar g" style="left:997.8px;top:648.63px;width:25.3px"></div>
<div class="t r" style="left:1137.0px;top:653.98px">490</div>
<div class="bar p" style="left:1219.8px;top:648.63px;width:6.7px"></div>
<div class="t c" style="left:1057px;top:653.98px;width:121px">58.14%</div>
<div class="t c" style="left:1299px;top:653.98px;width:121px">31.86%</div>
<div class="hc" style="left:1056.8px;top:666.62px;width:120.9px;height:25.27px;background:#caebfa"></div>
<div class="hc" style="left:1299px;top:666.62px;width:121.1px;height:25.27px;background:#f8d3df"></div>
<div class="t j f" style="left:75px;top:679.25px">女性</div>
<div class="t c" style="left:149px;top:679.25px;width:60px">55-64</div>
<div class="t j" style="left:222.6px;top:679.25px">リピーター</div>
<div class="t r" style="left:290.2px;top:679.25px">107</div>
<div class="bar g" style="left:372.0px;top:673.90px;width:1.7px"></div>
<div class="t r" style="left:411.0px;top:679.25px">0</div>
<div class="bar g" style="left:493.0px;top:673.90px;width:1px;opacity:.6"></div>
<div class="t r" style="left:532.2px;top:679.25px">143</div>
<div class="bar b" style="left:614.1px;top:673.90px;width:2.5px"></div>
<div class="t r" style="left:660.0px;top:679.25px">762</div>
<div class="bar b" style="left:742.1px;top:673.90px;width:2.5px"></div>
<div class="t r" style="left:767.3px;top:679.25px">5.33</div>
<div class="bar g" style="left:849.1px;top:673.90px;width:66.5px"></div>
<div class="t r" style="left:916.0px;top:679.25px">00:04:25</div>
<div class="bar g" style="left:997.8px;top:673.90px;width:43.0px"></div>
<div class="t r" style="left:1137.0px;top:679.25px">392</div>
<div class="bar p" style="left:1219.8px;top:673.90px;width:5.9px"></div>
<div class="t c" style="left:1057px;top:679.25px;width:121px">59.44%</div>
<div class="t c" style="left:1299px;top:679.25px;width:121px">33.57%</div>
<div class="t j f" style="left:75px;top:704.53px">女性</div>
<div class="t c" style="left:149px;top:704.53px;width:60px">65+</div>
<div class="t j" style="left:222.6px;top:704.53px">新規</div>
<div class="t r" style="left:290.2px;top:704.53px">738</div>
<div class="bar g" style="left:372.0px;top:699.18px;width:14.3px"></div>
<div class="t r" style="left:411.0px;top:704.53px">738</div>
<div class="bar g" style="left:493.0px;top:699.18px;width:14.3px"></div>
<div class="t r" style="left:532.2px;top:704.53px">740</div>
<div class="bar b" style="left:614.1px;top:699.18px;width:14.3px"></div>
<div class="t r" style="left:660.0px;top:704.53px">1,329</div>
<div class="bar b" style="left:742.1px;top:699.18px;width:5.1px"></div>
<div class="t r" style="left:767.3px;top:704.53px">1.8</div>
<div class="bar g" style="left:849.1px;top:699.18px;width:21.9px"></div>
<div class="t r" style="left:916.0px;top:704.53px">00:01:25</div>
<div class="bar g" style="left:997.8px;top:699.18px;width:13.5px"></div>
<div class="t r" style="left:1137.0px;top:704.53px">168</div>
<div class="bar p" style="left:1219.8px;top:699.18px;width:2.5px"></div>
<div class="t c" style="left:1057px;top:704.53px;width:121px">29.59%</div>
<div class="t c" style="left:1299px;top:704.53px;width:121px">8.92%</div>
<div class="t j f" style="left:75px;top:729.80px">女性</div>
<div class="t c" style="left:149px;top:729.80px;width:60px">65+</div>
<div class="t j" style="left:222.6px;top:729.80px">リピーター</div>
<div class="t r" style="left:290.2px;top:729.80px">317</div>
<div class="bar g" style="left:372.0px;top:724.45px;width:5.9px"></div>
<div class="t r" style="left:411.0px;top:729.80px">0</div>
<div class="bar g" style="left:493.0px;top:724.45px;width:1px;opacity:.6"></div>
<div class="t r" style="left:532.2px;top:729.80px">486</div>
<div class="bar b" style="left:614.1px;top:724.45px;width:9.3px"></div>
<div class="t r" style="left:660.0px;top:729.80px">823</div>
<div class="bar b" style="left:742.1px;top:724.45px;width:3.4px"></div>
<div class="t r" style="left:767.3px;top:729.80px">1.69</div>
<div class="bar g" style="left:849.1px;top:724.45px;width:21.1px"></div>
<div class="t r" style="left:916.0px;top:729.80px">00:02:15</div>
<div class="bar g" style="left:997.8px;top:724.45px;width:21.9px"></div>
<div class="t r" style="left:1137.0px;top:729.80px">116</div>
<div class="bar p" style="left:1219.8px;top:724.45px;width:1.7px"></div>
<div class="t c" style="left:1057px;top:729.80px;width:121px">33.54%</div>
<div class="t c" style="left:1299px;top:729.80px;width:121px">5.35%</div>

<!-- footer -->
<div class="abs" style="left:59px;top:764px;font-size:7.4px;letter-spacing:.16px;line-height:9px;color:#bdbdbd;white-space:nowrap;">最終更新日: 2024/9/6 7:56:53&nbsp;｜&nbsp;<span style="text-decoration:underline">プライバシー ポリシー</span></div>
<div class="abs" style="right:7px;top:755px;font-size:10.4px;line-height:14px;color:#666;white-space:nowrap;">©reposub All rights reserved.</div>
</div>
</body>
</html>
